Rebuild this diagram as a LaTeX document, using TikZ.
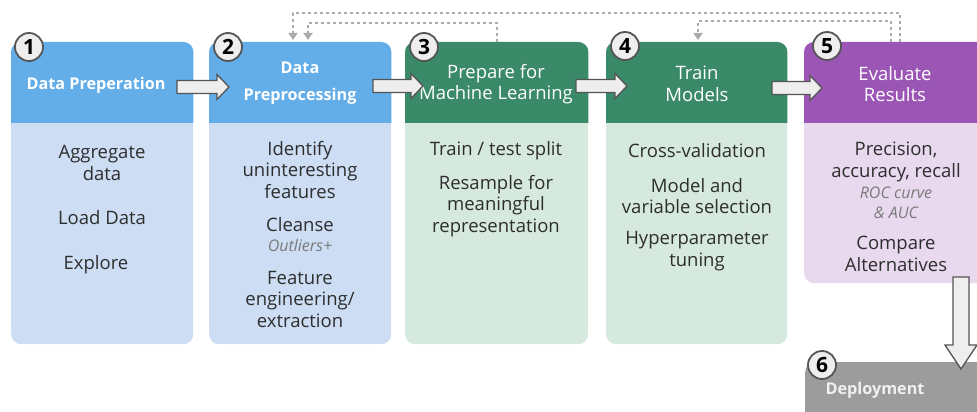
\documentclass[tikz,border=0pt]{standalone}
\usepackage{fontspec}
\setmainfont{Open Sans}
\usetikzlibrary{arrows.meta,calc}

\definecolor{blueHead}{HTML}{63AEE9}
\definecolor{blueBody}{HTML}{CCDDF4}
\definecolor{greenHead}{HTML}{3A8968}
\definecolor{greenBody}{HTML}{D5E9DE}
\definecolor{purpleHead}{HTML}{9B55B5}
\definecolor{purpleBody}{HTML}{E8D9EF}
\definecolor{deployGray}{HTML}{9C9C9C}
\definecolor{bodyText}{HTML}{2E2E2E}
\definecolor{noteText}{HTML}{7A7A7A}
\definecolor{arrowFill}{HTML}{EEEEEE}
\definecolor{arrowEdge}{HTML}{555555}
\definecolor{loopGray}{HTML}{ABABAB}

\tikzset{
  x=1pt, y=1pt,
  stagebox/.style={rounded corners=10pt, anchor=north west, inner sep=0pt,
    minimum width=182pt, minimum height=302pt},
  headbold/.style={text=white, align=center,
    font=\fontsize{16.2}{27}\selectfont\bfseries},
  headreg/.style={text=white, align=center,
    font=\fontsize{18.5}{21.5}\selectfont},
  item/.style={text=bodyText, align=center,
    font=\fontsize{18.5}{21.5}\selectfont},
  note/.style={text=noteText, align=center,
    font=\fontsize{16}{20}\selectfont\itshape},
  numdisc/.style={circle, minimum size=28pt, inner sep=0pt, draw=arrowEdge,
    line width=1.8pt, fill=arrowFill,
    font=\fontsize{21}{21}\selectfont\bfseries},
  blockarrow/.style={draw=arrowEdge, fill=arrowFill, line width=1.3pt,
    line join=miter},
  loopback/.style={draw=loopGray, line width=2.4pt, dash pattern=on 3pt off 3pt,
    -{Triangle[width=9pt,length=7pt]}, shorten >=2pt},
}

% horizontal block arrow: tail x, tip x, centre y
\newcommand\hblockarrow[3]{%
  \filldraw[blockarrow] (#1,#3+6.5) -- (#2-12,#3+6.5) -- (#2-12,#3+12.5)
    -- (#2,#3) -- (#2-12,#3-12.5) -- (#2-12,#3-6.5) -- (#1,#3-6.5) -- cycle;}

% header band of a stage box, sharp at its lower edge
\newcommand\stagehead[3]{% box name, colour, bottom y
  \begin{scope}
    \clip (#1.north west) rectangle (#1.east |- 0,#3);
    \fill[#2, rounded corners=10pt] (#1.north west) rectangle (#1.south east);
  \end{scope}}

\begin{document}
\begin{tikzpicture}
\useasboundingbox (0,0) rectangle (977,-412);
\clip (0,0) rectangle (977,-412);

% stage boxes
\node[stagebox, fill=blueBody] (b1) at (11,-42) {};
\node[stagebox, fill=blueBody] (b2) at (209,-42) {};
\node[stagebox, fill=greenBody, minimum width=183pt] (b3) at (405,-42) {};
\node[stagebox, fill=greenBody, minimum width=181pt] (b4) at (606,-42) {};
\node[stagebox, fill=purpleBody, minimum width=190pt, minimum height=241pt] (b5) at (804,-42) {};
\node[stagebox, fill=deployGray, minimum width=190pt, minimum height=70pt] (b6) at (805,-362) {};

\stagehead{b1}{blueHead}{-122}
\stagehead{b2}{blueHead}{-122}
\stagehead{b3}{greenHead}{-122}
\stagehead{b4}{greenHead}{-122}
\stagehead{b5}{purpleHead}{-122}

% headings
\node[headbold] (h1) at (96,-85) {Data Preperation};
\node[headbold] (h2) at (300,-83) {Data\\Preprocessing};
\node[headreg] (h3) at (496,-84) {Prepare for\\Machine Learning};
\node[headreg] (h4) at (697,-84) {Train\\Models};
\node[headreg] (h5) at (895,-84) {Evaluate\\Results};
\node[headbold, text=white!94!black] (h6) at (875,-390) {Deployment};

% box contents
\node[item] (t1a) at (102,-163) {Aggregate\\data};
\node[item] (t1b) at (102,-218) {Load Data};
\node[item] (t1c) at (96,-265) {Explore};

\node[item] (t2a) at (300,-170) {Identify\\uninteresting\\features};
\node[item] (t2b) at (300,-225) {Cleanse};
\node[note] (t2c) at (300,-245) {Outliers+};
\node[item] (t2d) at (300,-299) {Feature\\engineering/\\extraction};

\node[item] (t3a) at (496,-151) {Train / test split};
\node[item] (t3b) at (496,-206) {Resample for\\meaningful\\representation};

\node[item] (t4a) at (697,-151) {Cross-validation};
\node[item] (t4b) at (697,-196) {Model and\\variable selection};
\node[item] (t4c) at (697,-251) {Hyperparameter\\tuning};

\node[item] (t5a) at (896,-162) {Precision,\\accuracy, recall};
\node[note] (t5b) at (896,-203) {ROC curve\\\& AUC};
\node[item] (t5c) at (896,-254) {Compare\\Alternatives};

% block arrows between stages
\hblockarrow{177}{229}{-87}
\hblockarrow{373}{423}{-86}
\hblockarrow{576}{627}{-86}
\hblockarrow{772}{822}{-88}
\filldraw[blockarrow] (953,-277) -- (953,-345) -- (945,-345) -- (961,-369)
  -- (977,-345) -- (969,-345) -- (969,-277) -- cycle;

% feedback loops
\draw[loopback] ([xshift=96pt]b5.north west) -- ++(0,29) -| ([xshift=84pt]b2.north west);
\draw[loopback] ([xshift=87pt]b5.north west) -- ++(0,21) -| ([xshift=92pt]b4.north west);
\draw[loopback] ([xshift=92pt]b3.north west) -- ++(0,19) -| ([xshift=99pt]b2.north west);

% step numbers
\node[numdisc] (n1) at (29,-47) {1};
\node[numdisc] (n2) at (228,-47) {2};
\node[numdisc] (n3) at (424,-47) {3};
\node[numdisc] (n4) at (625,-46) {4};
\node[numdisc] (n5) at (827,-46) {5};
\node[numdisc] (n6) at (822,-365) {6};
\end{tikzpicture}
\end{document}
